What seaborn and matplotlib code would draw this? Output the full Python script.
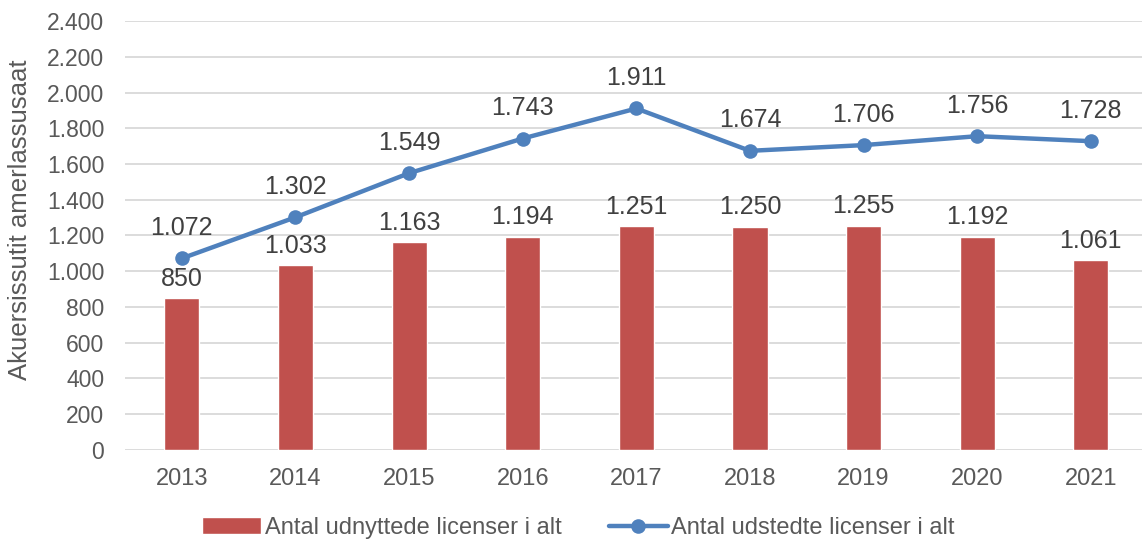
import numpy as np
import pandas as pd
import matplotlib
matplotlib.use("Agg")
import matplotlib.pyplot as plt
import seaborn as sns
from matplotlib.ticker import FuncFormatter

years = ["2013", "2014", "2015", "2016", "2017", "2018", "2019", "2020", "2021"]
used = [850, 1033, 1163, 1194, 1251, 1250, 1255, 1192, 1061]
issued = [1072, 1302, 1549, 1743, 1911, 1674, 1706, 1756, 1728]

label_used = "Antal udnyttede licenser i alt"
label_issued = "Antal udstedte licenser i alt"
ylabel = "Akuersissutit amerlassusaat"

sns.set_style("white")
plt.rcParams["font.family"] = ["Liberation Sans", "DejaVu Sans"]

RED = "#C0504D"
BLUE = "#4F81BD"
TXT = "#595959"


def dk(v, pos=None):
    # dansk tusindtalsseparator
    return f"{int(v):,}".replace(",", ".")


df = pd.DataFrame({"year": years, "used": used, "issued": issued})

fig = plt.figure(figsize=(11.42, 5.42), dpi=100)
ax = fig.add_axes([0.1095, 0.170, 0.8905, 0.791])

sns.barplot(data=df, x="year", y="used", color=RED, width=0.31,
            saturation=1, ax=ax, label=label_used, zorder=2)
sns.lineplot(x=np.arange(len(years)), y=issued, color=BLUE, linewidth=3.2,
             marker="o", markersize=10.5, markeredgewidth=0, ax=ax,
             label=label_issued, zorder=3)

for i, (u, s) in enumerate(zip(used, issued)):
    ax.annotate(dk(u), (i, u), xytext=(0, 14), textcoords="offset points",
                ha="center", va="center", fontsize=18, color="#404040")
    ax.annotate(dk(s), (i, s), xytext=(0, 22), textcoords="offset points",
                ha="center", va="center", fontsize=18, color="#404040")

ax.set_ylim(0, 2400)
ax.set_yticks(range(0, 2401, 200))
ax.yaxis.set_major_formatter(FuncFormatter(dk))
ax.set_xlim(-0.5, 8.45)
ax.grid(axis="y", color="#D9D9D9", linewidth=1.3, zorder=0)
ax.set_axisbelow(True)
for sp in ax.spines.values():
    sp.set_visible(False)
ax.tick_params(axis="y", length=0, labelsize=16.5, colors=TXT, pad=15)
ax.tick_params(axis="x", length=0, labelsize=17, colors=TXT, pad=13)
ax.set_xlabel("")
ax.set_ylabel("")
fig.text(20 / 1142, 1 - 220 / 542, ylabel, rotation=90, ha="center",
         va="center", fontsize=18.5, color=TXT)

h, l = ax.get_legend_handles_labels()
ax.legend(h[::-1], l[::-1], loc="center", bbox_to_anchor=(0.446, -0.182),
          ncol=2, frameon=False, fontsize=17, handlelength=2.5,
          columnspacing=2.0, handletextpad=0.15, labelcolor=TXT)

fig.savefig("out.png", dpi=100)
